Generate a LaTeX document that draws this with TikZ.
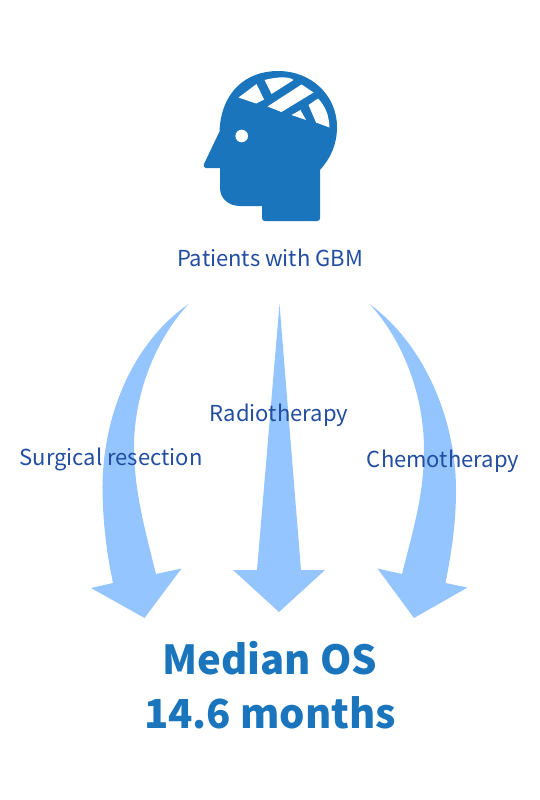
\documentclass[tikz,border=0pt]{standalone}
\usepackage{fontspec}
\setmainfont{Noto Sans CJK KR}
\definecolor{headblue}{HTML}{1A75BD}
\definecolor{arrowblue}{HTML}{94C5FF}
\definecolor{labelblue}{HTML}{234DA0}
\tikzset{
  arrowshape/.style={fill=arrowblue,draw=none},
  headshape/.style={fill=headblue,draw=none},
  gap/.style={fill=white,draw=none},
  lbl/.style={text=labelblue,font=\fontsize{22}{27}\selectfont,inner sep=0pt},
  result/.style={text=headblue,font=\fontsize{40}{54}\selectfont\bfseries,inner sep=0pt,align=center},
}
\begin{document}
\begin{tikzpicture}[x=1pt,y=-1pt]
\useasboundingbox (0,0) rectangle (540,800);
% head
\path[headshape] (204,164) -- (219.5,131.5)
  .. controls (221,92) and (246,71) .. (278,71)
  .. controls (312,71) and (337,96) .. (337,127)
  .. controls (337,145) and (330,159) .. (320,170)
  -- (320,218) .. controls (320,220) and (319,221) .. (317,221)
  -- (265,221) .. controls (263,221) and (262,220) .. (262,218)
  -- (262,206) -- (240,206)
  .. controls (228,206) and (220,198) .. (220,188)
  -- (220,168) -- (206,168) .. controls (204,168) and (203,166) .. (204,164) -- cycle;
\path[gap] (238.5,97.5) -- (256.5,84) -- (264,99.5) -- (256,103.5) -- cycle;
\path[gap] (264.5,80) .. controls (280,76) and (290,77) .. (293.5,80) -- (271.5,94) -- cycle;
\path[gap] (267.5,106.5) -- (301.5,84.5) -- (313.5,92.5) -- (281.5,112) -- cycle;
\path[gap] (291.5,115) -- (300.5,110) -- (306,120) -- cycle;
\path[gap] (308.5,105) -- (318,98.5) .. controls (326,107) and (329,116) .. (329.5,127.5) -- (316,122.5) -- cycle;
\path[gap] (241.7,136) circle[radius=6.3];
% arrows
\path[arrowshape] (188.5,304) .. controls (130,345) and (102,420) .. (102.5,490)
  .. controls (103,525) and (107,555) .. (113,583) -- (91,588) -- (144.5,618) -- (181.5,568.5) -- (156,574)
  .. controls (145,530) and (134,490) .. (134,447)
  .. controls (134,395) and (155,340) .. (188.5,304) -- cycle;
\path[arrowshape] (279.5,304) -- (257,570) -- (233,570) -- (279,612) -- (325,570) -- (301,570) -- cycle;
\path[arrowshape] (369.5,304) .. controls (425,345) and (456,420) .. (456,490)
  .. controls (456,525) and (451,555) .. (445.5,583) -- (467.5,587.5) -- (414,618) -- (377.5,568.5) -- (402,574)
  .. controls (413,530) and (424,495) .. (424,450)
  .. controls (424,395) and (403,340) .. (369.5,304) -- cycle;
% labels
\node[lbl] (patients) at (270,258) {Patients with GBM};
\node[lbl] (radio) at (279,415) {Radiotherapy};
\node[lbl] (surgery) at (111,459) {Surgical resection};
\node[lbl] (chemo) at (443,461) {Chemotherapy};
\node[result] (os) at (270,685) {Median OS\\14.6 months};
\end{tikzpicture}
\end{document}
